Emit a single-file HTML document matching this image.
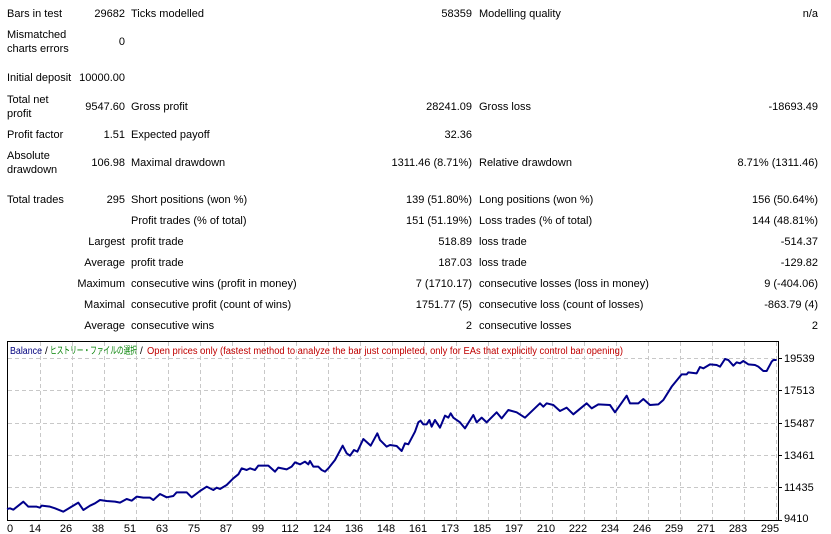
<!DOCTYPE html>
<html><head><meta charset="utf-8"><style>
body{margin:0;width:831px;height:534px;background:#fff;position:relative;overflow:hidden;font-family:"Liberation Sans","Noto Sans CJK JP",sans-serif;font-size:11px;color:#000}
.t{position:absolute;line-height:14px;white-space:nowrap}
.r{text-align:right}
</style></head><body>
<div class="t" style="left:7px;top:7px">Bars in test</div>
<div class="t r" style="right:706px;top:7px">29682</div>
<div class="t" style="left:131px;top:7px">Ticks modelled</div>
<div class="t r" style="right:359px;top:7px">58359</div>
<div class="t" style="left:479px;top:7px">Modelling quality</div>
<div class="t r" style="right:13px;top:7px">n/a</div>

<div class="t" style="left:7px;top:28px">Mismatched<br>charts errors</div>
<div class="t r" style="right:706px;top:35px">0</div>

<div class="t" style="left:7px;top:71px">Initial deposit</div>
<div class="t r" style="right:706px;top:71px">10000.00</div>

<div class="t" style="left:7px;top:93px">Total net<br>profit</div>
<div class="t r" style="right:706px;top:100px">9547.60</div>
<div class="t" style="left:131px;top:100px">Gross profit</div>
<div class="t r" style="right:359px;top:100px">28241.09</div>
<div class="t" style="left:479px;top:100px">Gross loss</div>
<div class="t r" style="right:13px;top:100px">-18693.49</div>

<div class="t" style="left:7px;top:128px">Profit factor</div>
<div class="t r" style="right:706px;top:128px">1.51</div>
<div class="t" style="left:131px;top:128px">Expected payoff</div>
<div class="t r" style="right:359px;top:128px">32.36</div>

<div class="t" style="left:7px;top:149px">Absolute<br>drawdown</div>
<div class="t r" style="right:706px;top:156px">106.98</div>
<div class="t" style="left:131px;top:156px">Maximal drawdown</div>
<div class="t r" style="right:359px;top:156px">1311.46 (8.71%)</div>
<div class="t" style="left:479px;top:156px">Relative drawdown</div>
<div class="t r" style="right:13px;top:156px">8.71% (1311.46)</div>

<div class="t" style="left:7px;top:193px">Total trades</div>
<div class="t r" style="right:706px;top:193px">295</div>
<div class="t" style="left:131px;top:193px">Short positions (won %)</div>
<div class="t r" style="right:359px;top:193px">139 (51.80%)</div>
<div class="t" style="left:479px;top:193px">Long positions (won %)</div>
<div class="t r" style="right:13px;top:193px">156 (50.64%)</div>

<div class="t" style="left:131px;top:214px">Profit trades (% of total)</div>
<div class="t r" style="right:359px;top:214px">151 (51.19%)</div>
<div class="t" style="left:479px;top:214px">Loss trades (% of total)</div>
<div class="t r" style="right:13px;top:214px">144 (48.81%)</div>

<div class="t r" style="right:706px;top:235px">Largest</div>
<div class="t" style="left:131px;top:235px">profit trade</div>
<div class="t r" style="right:359px;top:235px">518.89</div>
<div class="t" style="left:479px;top:235px">loss trade</div>
<div class="t r" style="right:13px;top:235px">-514.37</div>

<div class="t r" style="right:706px;top:256px">Average</div>
<div class="t" style="left:131px;top:256px">profit trade</div>
<div class="t r" style="right:359px;top:256px">187.03</div>
<div class="t" style="left:479px;top:256px">loss trade</div>
<div class="t r" style="right:13px;top:256px">-129.82</div>

<div class="t r" style="right:706px;top:277px">Maximum</div>
<div class="t" style="left:131px;top:277px">consecutive wins (profit in money)</div>
<div class="t r" style="right:359px;top:277px">7 (1710.17)</div>
<div class="t" style="left:479px;top:277px">consecutive losses (loss in money)</div>
<div class="t r" style="right:13px;top:277px">9 (-404.06)</div>

<div class="t r" style="right:706px;top:298px">Maximal</div>
<div class="t" style="left:131px;top:298px">consecutive profit (count of wins)</div>
<div class="t r" style="right:359px;top:298px">1751.77 (5)</div>
<div class="t" style="left:479px;top:298px">consecutive loss (count of losses)</div>
<div class="t r" style="right:13px;top:298px">-863.79 (4)</div>

<div class="t r" style="right:706px;top:319px">Average</div>
<div class="t" style="left:131px;top:319px">consecutive wins</div>
<div class="t r" style="right:359px;top:319px">2</div>
<div class="t" style="left:479px;top:319px">consecutive losses</div>
<div class="t r" style="right:13px;top:319px">2</div>

<svg width="831" height="534" style="position:absolute;left:0;top:0" xmlns="http://www.w3.org/2000/svg">
<g stroke="#c8c8c8" stroke-dasharray="4,3" stroke-width="1">
<line x1="8" x2="778" y1="358.5" y2="358.5"/><line x1="8" x2="778" y1="390.5" y2="390.5"/><line x1="8" x2="778" y1="423.5" y2="423.5"/><line x1="8" x2="778" y1="455.5" y2="455.5"/><line x1="8" x2="778" y1="487.5" y2="487.5"/>
<line x1="40.5" x2="40.5" y1="342" y2="520"/><line x1="72.5" x2="72.5" y1="342" y2="520"/><line x1="104.5" x2="104.5" y1="342" y2="520"/><line x1="136.5" x2="136.5" y1="342" y2="520"/><line x1="168.5" x2="168.5" y1="342" y2="520"/><line x1="200.5" x2="200.5" y1="342" y2="520"/><line x1="232.5" x2="232.5" y1="342" y2="520"/><line x1="264.5" x2="264.5" y1="342" y2="520"/><line x1="296.5" x2="296.5" y1="342" y2="520"/><line x1="328.5" x2="328.5" y1="342" y2="520"/><line x1="360.5" x2="360.5" y1="342" y2="520"/><line x1="392.5" x2="392.5" y1="342" y2="520"/><line x1="424.5" x2="424.5" y1="342" y2="520"/><line x1="456.5" x2="456.5" y1="342" y2="520"/><line x1="488.5" x2="488.5" y1="342" y2="520"/><line x1="520.5" x2="520.5" y1="342" y2="520"/><line x1="552.5" x2="552.5" y1="342" y2="520"/><line x1="584.5" x2="584.5" y1="342" y2="520"/><line x1="616.5" x2="616.5" y1="342" y2="520"/><line x1="648.5" x2="648.5" y1="342" y2="520"/><line x1="680.5" x2="680.5" y1="342" y2="520"/><line x1="712.5" x2="712.5" y1="342" y2="520"/><line x1="744.5" x2="744.5" y1="342" y2="520"/><line x1="776.5" x2="776.5" y1="342" y2="520"/>
</g>
<rect x="7.5" y="341.5" width="771" height="179" fill="none" stroke="#000"/>
<g stroke="#000"><line x1="779" x2="782" y1="358.5" y2="358.5"/><line x1="779" x2="782" y1="390.5" y2="390.5"/><line x1="779" x2="782" y1="423.5" y2="423.5"/><line x1="779" x2="782" y1="455.5" y2="455.5"/><line x1="779" x2="782" y1="487.5" y2="487.5"/><line x1="779" x2="782" y1="520.5" y2="520.5"/></g>
<g font-family="Liberation Sans, sans-serif" font-size="11" fill="#000">
<text x="784" y="362">19539</text><text x="784" y="394">17513</text><text x="784" y="427">15487</text><text x="784" y="459">13461</text><text x="784" y="491">11435</text><text x="784" y="522">9410</text>
</g>
<g font-family="Liberation Sans, sans-serif" font-size="11" fill="#000" text-anchor="middle">
<text x="10" y="532">0</text><text x="35" y="532">14</text><text x="66" y="532">26</text><text x="98" y="532">38</text><text x="130" y="532">51</text><text x="162" y="532">63</text><text x="194" y="532">75</text><text x="226" y="532">87</text><text x="258" y="532">99</text><text x="290" y="532">112</text><text x="322" y="532">124</text><text x="354" y="532">136</text><text x="386" y="532">148</text><text x="418" y="532">161</text><text x="450" y="532">173</text><text x="482" y="532">185</text><text x="514" y="532">197</text><text x="546" y="532">210</text><text x="578" y="532">222</text><text x="610" y="532">234</text><text x="642" y="532">246</text><text x="674" y="532">259</text><text x="706" y="532">271</text><text x="738" y="532">283</text><text x="770" y="532">295</text>
</g>
<g font-family="Liberation Sans, Noto Sans CJK JP, sans-serif" font-size="10">
<text x="10" y="354" fill="#00007f" textLength="32" lengthAdjust="spacingAndGlyphs">Balance</text>
<text x="45" y="354" fill="#000">/</text>
<text x="50" y="354" fill="#008000" textLength="87" lengthAdjust="spacingAndGlyphs">ヒストリー・ファイルの選択</text>
<text x="140" y="354" fill="#000">/</text>
<text x="147" y="354" fill="#c00000" textLength="476" lengthAdjust="spacingAndGlyphs">Open prices only (fastest method to analyze the bar just completed, only for EAs that explicitly control bar opening)</text>
</g>
<g transform="translate(0 335) scale(0.33333)" fill="none" stroke="#00008b" stroke-width="6" stroke-linejoin="round">
<polyline points="21,522 30,520 40,524 55,512 70,500 85,515 110,515 120,518 125,512 150,515 165,520 190,530 210,518 235,503 250,525 270,512 285,505 300,495 320,498 345,500 360,503 380,492 395,497 410,485 430,488 450,488 460,495 480,477 500,487 520,483 530,472 560,472 575,487 600,468 620,455 640,465 650,458 660,462 680,450 700,430 715,418 725,400 740,405 750,400 765,405 775,392 805,392 825,410 835,398 860,403 875,395 885,382 900,388 915,380 925,388 930,378 940,395 955,395 965,405 975,410 985,400 1005,375 1028,332 1040,355 1050,362 1062,345 1072,350 1090,312 1112,332 1132,295 1140,315 1160,335 1170,330 1190,333 1205,348 1215,325 1225,328 1245,290 1255,262 1260,258"/>
<polyline transform="translate(1260 0)" points="0,255 10,268 20,268 28,255 35,275 45,255 60,278 75,242 85,248 92,235 100,248 120,262 135,280 160,240 170,262 185,248 200,262 230,232 245,250 265,225 290,232 315,248 360,205 370,215 380,205 400,210 420,228 440,218 460,238 500,205 515,220 535,208 570,210 585,232 620,182 630,205 655,205 670,192 690,210 715,208 730,195 755,155 785,118 800,118 805,112 830,115 840,96 850,100 870,88 890,90 900,95 915,72 925,75 940,92 950,82 960,85 970,78 985,88 1005,90 1015,95 1030,108 1040,108 1055,80 1060,75 1070,75"/>
</g>
</svg>
</body></html>
